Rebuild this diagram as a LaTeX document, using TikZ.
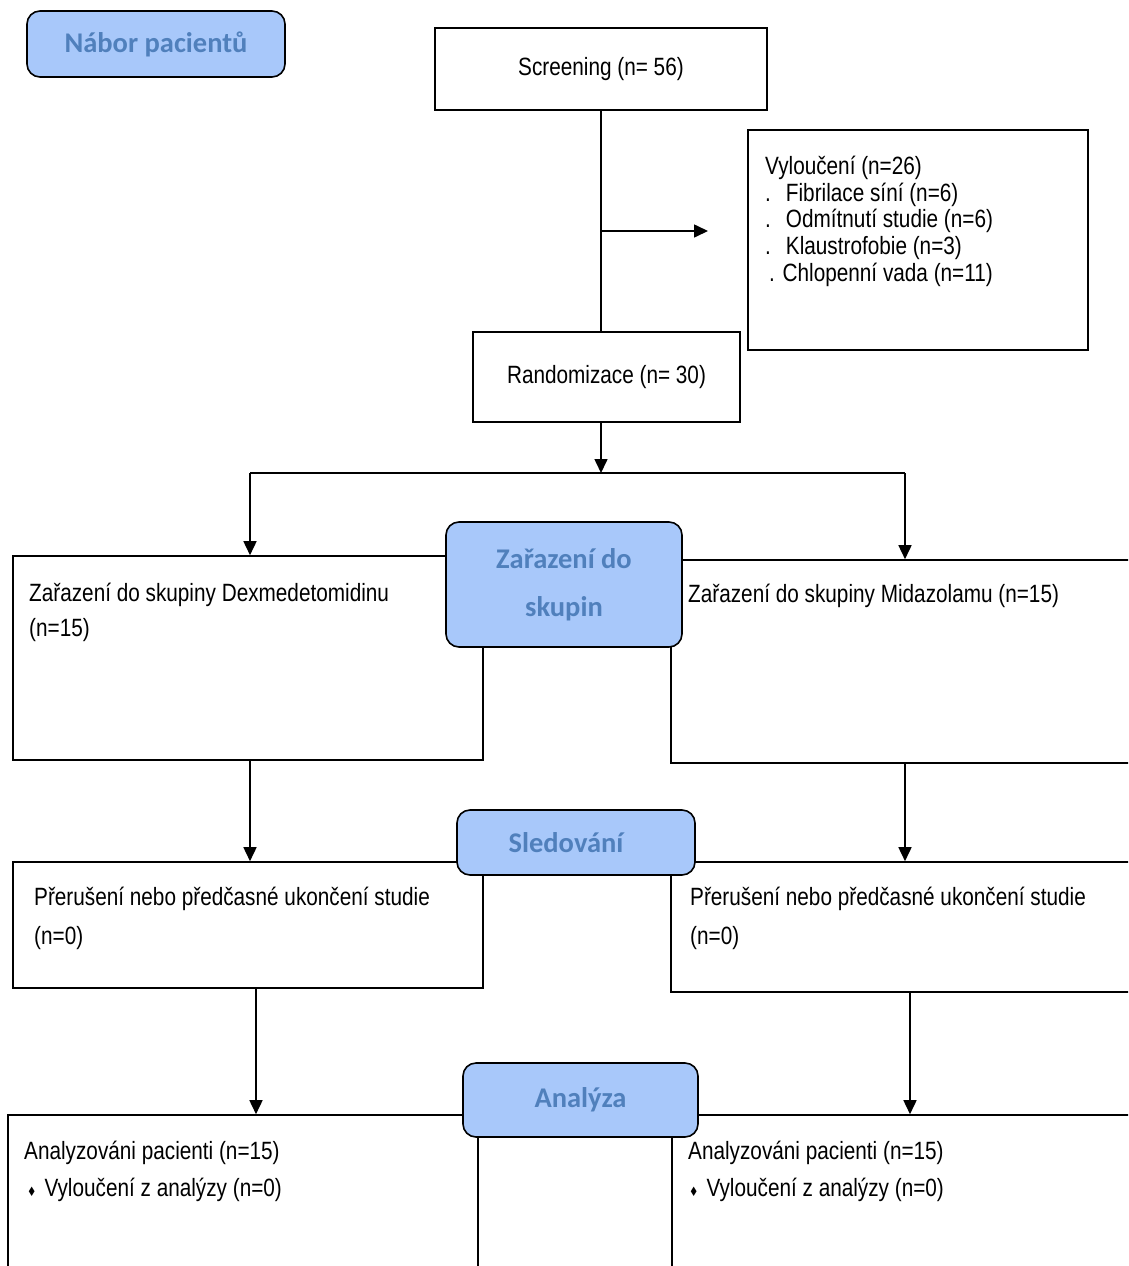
\documentclass[tikz,border=0pt]{standalone}
\usepackage{fontspec}
\setmainfont{Liberation Sans}[FakeStretch=0.83]
\newfontfamily\headfont{Carlito}
\newfontfamily\diamfont{DejaVu Sans}[FakeStretch=0.8]
\usetikzlibrary{arrows.meta}
\definecolor{headfill}{RGB}{168,200,250}
\definecolor{headtext}{RGB}{80,128,188}
\tikzset{
  box/.style={draw, line width=1.6pt, fill=white, inner sep=0pt},
  head/.style={draw, line width=1.6pt, fill=headfill, rounded corners=13pt, text=headtext,
    font=\headfont\bfseries\fontsize{28.5}{48}\selectfont, align=center, inner sep=0pt},
  txt/.style={anchor=north west, inner sep=0pt, align=left, font=\fontsize{25}{26.6}\selectfont},
  arr/.style={-{Triangle[length=14pt,width=13pt]}, line width=1.6pt},
  lin/.style={line width=1.6pt}
}
\newcommand{\dia}{{\diamfont\fontsize{13}{13}\selectfont ♦}}

\begin{document}
\begin{tikzpicture}[x=1pt, y=-1pt]

    \useasboundingbox (0,0) rectangle (1128,1266);
    \clip (0,0) rectangle (1128,1266);

    \node[box, minimum width=332pt, minimum height=82pt] (screen) at (601, 69) {\fontsize{25}{26.6}\selectfont Screening (n= 56)};
    \node[box, minimum width=340pt, minimum height=220pt] (vyl) at (918, 240) {};
    \node[box, minimum width=267pt, minimum height=90pt] (rand) at (606.5, 377) {\fontsize{25}{26.6}\selectfont Randomizace (n= 30)};
    \node[box, minimum width=470pt, minimum height=204pt] (dex) at (248, 658) {};
    \node[box, minimum width=470pt, minimum height=203pt] (mid) at (906, 661.5) {};
    \node[box, minimum width=470pt, minimum height=126pt] (preL) at (248, 925) {};
    \node[box, minimum width=470pt, minimum height=130pt] (preR) at (906, 927) {};
    \node[box, minimum width=470pt, minimum height=200pt] (anaL) at (243, 1215) {};
    \node[box, minimum width=470pt, minimum height=200pt] (anaR) at (907, 1215) {};

    \node[txt] (vylT) at (765, 156) {Vyloučení (n=26)\\.\hspace{15pt}Fibrilace síní (n=6)\\.\hspace{15pt}Odmítnutí studie (n=6)\\.\hspace{15pt}Klaustrofobie (n=3)\\\hspace{4pt}. Chlopenní vada (n=11)};
    \node[txt] (dexT) at (29, 583) {Zařazení do skupiny Dexmedetomidinu\\[8.4pt](n=15)};
    \node[txt] (midT) at (688, 584) {Zařazení do skupiny Midazolamu (n=15)};
    \node[txt] (preLT) at (34, 887) {Přerušení nebo předčasné ukončení studie\\[12.4pt](n=0)};
    \node[txt] (preRT) at (690, 887) {Přerušení nebo předčasné ukončení studie\\[12.4pt](n=0)};
    \node[txt] (anaLT) at (24, 1141) {Analyzováni pacienti (n=15)\\[10.4pt]\hspace{3pt}\dia\hspace{8pt}Vyloučení z analýzy (n=0)};
    \node[txt] (anaRT) at (688, 1141) {Analyzováni pacienti (n=15)\\[10.4pt]\hspace{1pt}\dia\hspace{8pt}Vyloučení z analýzy (n=0)};

    \coordinate (b1) at (601, 231);
    \coordinate (b1e) at (708, 231);
    \coordinate (sp) at (601, 473);
    \coordinate (sl) at (250, 473);
    \coordinate (sr) at (905, 473);
    \coordinate (xl) at (256, 1000);
    \coordinate (xr) at (910, 1000);

    \draw[lin] (screen.south) -- (screen.south |- rand.north);
    \draw[arr] (b1) -- (b1e);
    \draw[arr] (screen.south |- rand.south) -- (sp);
    \draw[lin] (sl) -- (sr);
    \draw[arr] (sl) -- (sl |- dex.north);
    \draw[arr] (sr) -- (sr |- mid.north);
    \draw[arr] (sl |- dex.south) -- (sl |- preL.north);
    \draw[arr] (sr |- mid.south) -- (sr |- preR.north);
    \draw[arr] (xl |- preL.south) -- (xl |- anaL.north);
    \draw[arr] (xr |- preR.south) -- (xr |- anaR.north);

    \node[head, minimum width=258pt, minimum height=66pt] (nabor) at (156, 44) {Nábor pacientů};
    \node[head, minimum width=236pt, minimum height=125pt] (zar) at (564, 584.5) {Zařazení do\\skupin};
    \node[head, minimum width=238pt, minimum height=65pt] (sled) at (576, 842.5) {Sledování\hspace{20pt}};
    \node[head, minimum width=235pt, minimum height=74pt] (anal) at (580.5, 1100) {Analýza};

\end{tikzpicture}
\end{document}
